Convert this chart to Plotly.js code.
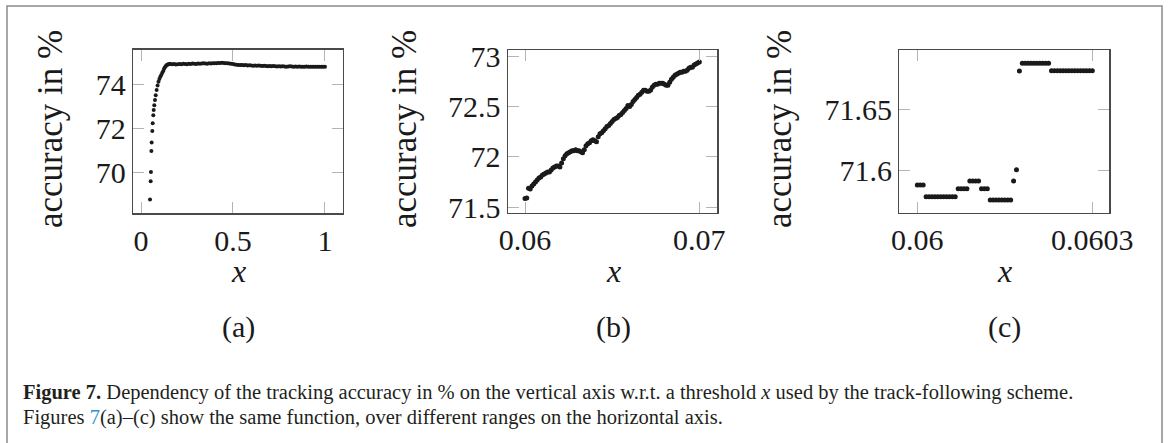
<!DOCTYPE html>
<html><head><meta charset="utf-8">
<script src="https://cdn.plot.ly/plotly-3.0.1.min.js"></script>
<style>html,body{margin:0;padding:0;background:#fff}#chart{width:1170px;height:443px}</style>
</head><body><div id="chart"></div>
<script>
// ---------- Panel (a): full range ----------
const xA_steep = [0.049,0.0525,0.054,0.0565,0.058,0.0614,0.0636,0.0668,0.069,0.0723,0.076,0.080,0.085,0.09,0.095,0.10,0.105,0.11,0.115,0.12,0.125,0.13,0.135,0.14,0.145,0.15,0.155];
const yA_steep = [68.77,69.60,70.02,70.97,71.36,71.88,72.23,72.60,72.84,73.06,73.29,73.51,73.75,73.95,74.12,74.25,74.35,74.43,74.52,74.60,74.70,74.78,74.84,74.88,74.91,74.92,74.93];
const xA_flat = [0.16,0.17,0.18,0.19,0.20,0.21,0.22,0.23,0.24,0.25,0.26,0.27,0.28,0.29,0.30,0.31,0.32,0.33,0.34,0.35,0.36,0.37,0.38,0.39,0.40,0.41,0.42,0.43,0.44,0.45,0.46,0.47,0.48,0.49,0.50,0.51,0.52,0.53,0.54,0.55,0.56,0.57,0.58,0.59,0.60,0.61,0.62,0.63,0.64,0.65,0.66,0.67,0.68,0.69,0.70,0.71,0.72,0.73,0.74,0.75,0.76,0.77,0.78,0.79,0.80,0.81,0.82,0.83,0.84,0.85,0.86,0.87,0.88,0.89,0.90,0.91,0.92,0.93,0.94,0.95,0.96,0.97,0.98,0.99,1.00];
const yA_flat = [74.93,74.92,74.93,74.91,74.92,74.93,74.92,74.94,74.93,74.92,74.94,74.93,74.95,74.94,74.93,74.95,74.94,74.95,74.96,74.95,74.94,74.96,74.95,74.97,74.96,74.97,74.98,74.98,74.99,74.98,74.97,74.97,74.95,74.94,74.93,74.91,74.90,74.89,74.88,74.88,74.87,74.88,74.86,74.87,74.86,74.85,74.86,74.85,74.86,74.85,74.84,74.85,74.84,74.83,74.84,74.83,74.84,74.83,74.82,74.83,74.82,74.83,74.82,74.81,74.82,74.83,74.82,74.81,74.82,74.81,74.82,74.81,74.80,74.81,74.82,74.81,74.80,74.81,74.80,74.81,74.80,74.81,74.80,74.80,74.80];
const xA = xA_steep.concat(xA_flat);
const yA = yA_steep.concat(yA_flat);

// ---------- Panel (b): 0.06 .. 0.07 ----------
const xB = [0.0600,0.0601,0.0602,0.0603,0.0604,0.0605,0.0606,0.0607,0.0608,0.0609,
0.0610,0.0611,0.0612,0.0613,0.0614,0.0615,0.0616,0.0617,0.0618,0.0619,
0.0620,0.0621,0.0622,0.0623,0.0624,0.0625,0.0626,0.0627,0.0628,0.0629,
0.0630,0.0631,0.0632,0.0633,0.0634,0.0635,0.0636,0.0637,0.0638,0.0639,
0.0640,0.0641,0.0642,0.0643,0.0644,0.0645,0.0646,0.0647,0.0648,0.0649,
0.0650,0.0651,0.0652,0.0653,0.0654,0.0655,0.0656,0.0657,0.0658,0.0659,
0.0660,0.0661,0.0662,0.0663,0.0664,0.0665,0.0666,0.0667,0.0668,0.0669,
0.0670,0.0671,0.0672,0.0673,0.0674,0.0675,0.0676,0.0677,0.0678,0.0679,
0.0680,0.0681,0.0682,0.0683,0.0684,0.0685,0.0686,0.0687,0.0688,0.0689,
0.0690,0.0691,0.0692,0.0693,0.0694,0.0695,0.0696,0.0697,0.0698,0.0699,0.0700];
const yB = [71.588,71.591,71.688,71.681,71.71,71.73,71.75,71.77,71.79,71.80,
71.82,71.83,71.84,71.85,71.85,71.87,71.89,71.90,71.91,71.91,
71.90,71.94,71.98,72.01,72.03,72.04,72.05,72.06,72.06,72.07,
72.06,72.06,72.05,72.04,72.07,72.11,72.13,72.14,72.16,72.17,
72.16,72.15,72.20,72.23,72.24,72.26,72.28,72.30,72.31,72.33,
72.35,72.37,72.38,72.39,72.41,72.42,72.44,72.46,72.48,72.51,
72.50,72.52,72.55,72.57,72.59,72.61,72.62,72.64,72.66,72.66,
72.65,72.65,72.66,72.69,72.71,72.72,72.72,72.73,72.73,72.73,
72.72,72.71,72.71,72.74,72.77,72.79,72.81,72.82,72.83,72.84,
72.84,72.85,72.85,72.86,72.88,72.89,72.89,72.91,72.92,72.93,72.94];

// ---------- Panel (c): 0.06 .. 0.0603 ----------
const xC = [0.060000,0.060005,0.060010,0.060015,0.060020,0.060025,0.060030,0.060035,0.060040,0.060045,
0.060050,0.060055,0.060060,0.060065,0.060070,0.060075,0.060080,0.060085,0.060090,0.060095,
0.060100,0.060105,0.060110,0.060115,0.060120,0.060125,0.060130,0.060135,0.060140,0.060145,
0.060150,0.060155,0.060160,0.060165,0.060170,0.060175,0.060180,0.060185,0.060190,0.060195,
0.060200,0.060205,0.060210,0.060215,0.060220,0.060225,0.060230,0.060235,0.060240,0.060245,
0.060250,0.060255,0.060260,0.060265,0.060270,0.060275,0.060280,0.060285,0.060290,0.060295,0.060300];
const yC = [71.5877,71.5877,71.5877,71.5781,71.5781,71.5781,71.5781,71.5781,71.5781,71.5781,
71.5781,71.5781,71.5781,71.5781,71.5847,71.5847,71.5847,71.5847,71.5910,71.5910,
71.5910,71.5910,71.5847,71.5847,71.5847,71.5754,71.5754,71.5754,71.5754,71.5754,
71.5754,71.5754,71.5754,71.5910,71.6002,71.6811,71.6875,71.6875,71.6875,71.6875,
71.6875,71.6875,71.6875,71.6875,71.6875,71.6875,71.6814,71.6814,71.6814,71.6814,
71.6814,71.6814,71.6814,71.6814,71.6814,71.6814,71.6814,71.6814,71.6814,71.6814,71.6814];

// tick labels
const ticksA_x = [0,0.5,1], labelsA_x = ['0','0.5','1'];
const ticksA_y = [70,72,74], labelsA_y = ['70','72','74'];
const ticksB_x = [0.06,0.07], labelsB_x = ['0.06','0.07'];
const ticksB_y = [71.5,72,72.5,73], labelsB_y = ['71.5','72','72.5','73'];
const ticksC_x = [0.06,0.0603], labelsC_x = ['0.06','0.0603'];
const ticksC_y = [71.6,71.65], labelsC_y = ['71.6','71.65'];

const yTitle = 'accuracy in %';
const xTitle = 'x';
const panelLabels = ['(a)','(b)','(c)'];
const captionLine1 = '<b>Figure 7.</b> Dependency of the tracking accuracy in % on the vertical axis w.r.t. a threshold <i>x</i> used by the track-following scheme.';
const captionLine2 = 'Figures <span style="color:#2b8fd3">7</span>(a)–(c) show the same function, over different ranges on the horizontal axis.';

// ---------- layout helpers ----------
const W = 1170, H = 443;
const px = v => v / W, py = v => 1 - v / H;
const SERIF = 'Liberation Serif';
const INK = '#1a1a1a';
const tickFont = {family: SERIF, size: 30, color: INK};

function axisStyle(extra) {
  return Object.assign({
    showgrid: false, zeroline: false, showline: true, mirror: 'ticks',
    linecolor: '#4a4a4a', linewidth: 1.2,
    ticks: 'inside', ticklen: 11, tickwidth: 1, tickcolor: '#b3b3b3',
    tickfont: tickFont, fixedrange: true
  }, extra);
}

const mk = (x, y, xa, ya, size) => ({
  x, y, xaxis: xa, yaxis: ya, type: 'scatter', mode: 'markers',
  marker: {color: INK, size: size, line: {width: 0}}, hoverinfo: 'skip'
});

const data = [
  mk(xA, yA, 'x', 'y', 4),
  mk(xB, yB, 'x2', 'y2', 5),
  mk(xC, yC, 'x3', 'y3', 5)
];

const ann = [];
const yTitleX = [50, 404, 779];
const xTitleX = [238, 613, 1005];
yTitleX.forEach(xp => ann.push({xref: 'paper', yref: 'paper', x: px(xp), y: py(129), text: yTitle,
  textangle: -90, showarrow: false, xanchor: 'center', yanchor: 'middle',
  font: {family: SERIF, size: 35, color: INK}}));
xTitleX.forEach((xp, i) => {
  ann.push({xref: 'paper', yref: 'paper', x: px(xp), y: py(271), text: '<i>' + xTitle + '</i>',
    showarrow: false, xanchor: 'center', yanchor: 'middle', font: {family: SERIF, size: 32, color: INK}});
  ann.push({xref: 'paper', yref: 'paper', x: px(xp), y: py(327), text: panelLabels[i],
    showarrow: false, xanchor: 'center', yanchor: 'middle', font: {family: SERIF, size: 30, color: INK}});
});
ann.push({xref: 'paper', yref: 'paper', x: px(21), y: py(392), text: captionLine1, showarrow: false,
  xanchor: 'left', yanchor: 'middle', font: {family: SERIF, size: 20.5, color: '#231f20'}});
ann.push({xref: 'paper', yref: 'paper', x: px(21), y: py(417), text: captionLine2, showarrow: false,
  xanchor: 'left', yanchor: 'middle', font: {family: SERIF, size: 20.5, color: '#231f20'}});

const layout = {
  width: W, height: H, margin: {l: 0, r: 0, t: 0, b: 0},
  paper_bgcolor: '#fff', plot_bgcolor: '#fff', showlegend: false, hovermode: false,
  xaxis: axisStyle({domain: [px(133), px(343)], range: [-0.0435, 1.098], tickvals: ticksA_x, ticktext: labelsA_x, anchor: 'y'}),
  yaxis: axisStyle({domain: [py(213.3), py(49.5)], range: [68.14, 75.59], tickvals: ticksA_y, ticktext: labelsA_y, anchor: 'x'}),
  xaxis2: axisStyle({domain: [px(507.7), px(717.3)], range: [0.059007, 0.07103], tickvals: ticksB_x, ticktext: labelsB_x, anchor: 'y2'}),
  yaxis2: axisStyle({domain: [py(212.7), py(50)], range: [71.446, 73.06], tickvals: ticksB_y, ticktext: labelsB_y, anchor: 'x2'}),
  xaxis3: axisStyle({domain: [px(899.3), px(1109.3)], range: [0.0599691, 0.0603291], tickvals: ticksC_x, ticktext: labelsC_x, anchor: 'y3'}),
  yaxis3: axisStyle({domain: [py(212.7), py(50)], range: [71.565, 71.6984], tickvals: ticksC_y, ticktext: labelsC_y, anchor: 'x3'}),
  annotations: ann,
  shapes: [{type: 'path', xref: 'paper', yref: 'paper',
    path: 'M ' + px(7) + ',' + py(445) + ' L ' + px(7) + ',' + py(6) + ' L ' + px(1162) + ',' + py(6) + ' L ' + px(1162) + ',' + py(445),
    line: {color: '#8a8a8a', width: 1.5}}]
};

Plotly.newPlot('chart', data, layout, {staticPlot: true, displayModeBar: false});
</script>
</body></html>
